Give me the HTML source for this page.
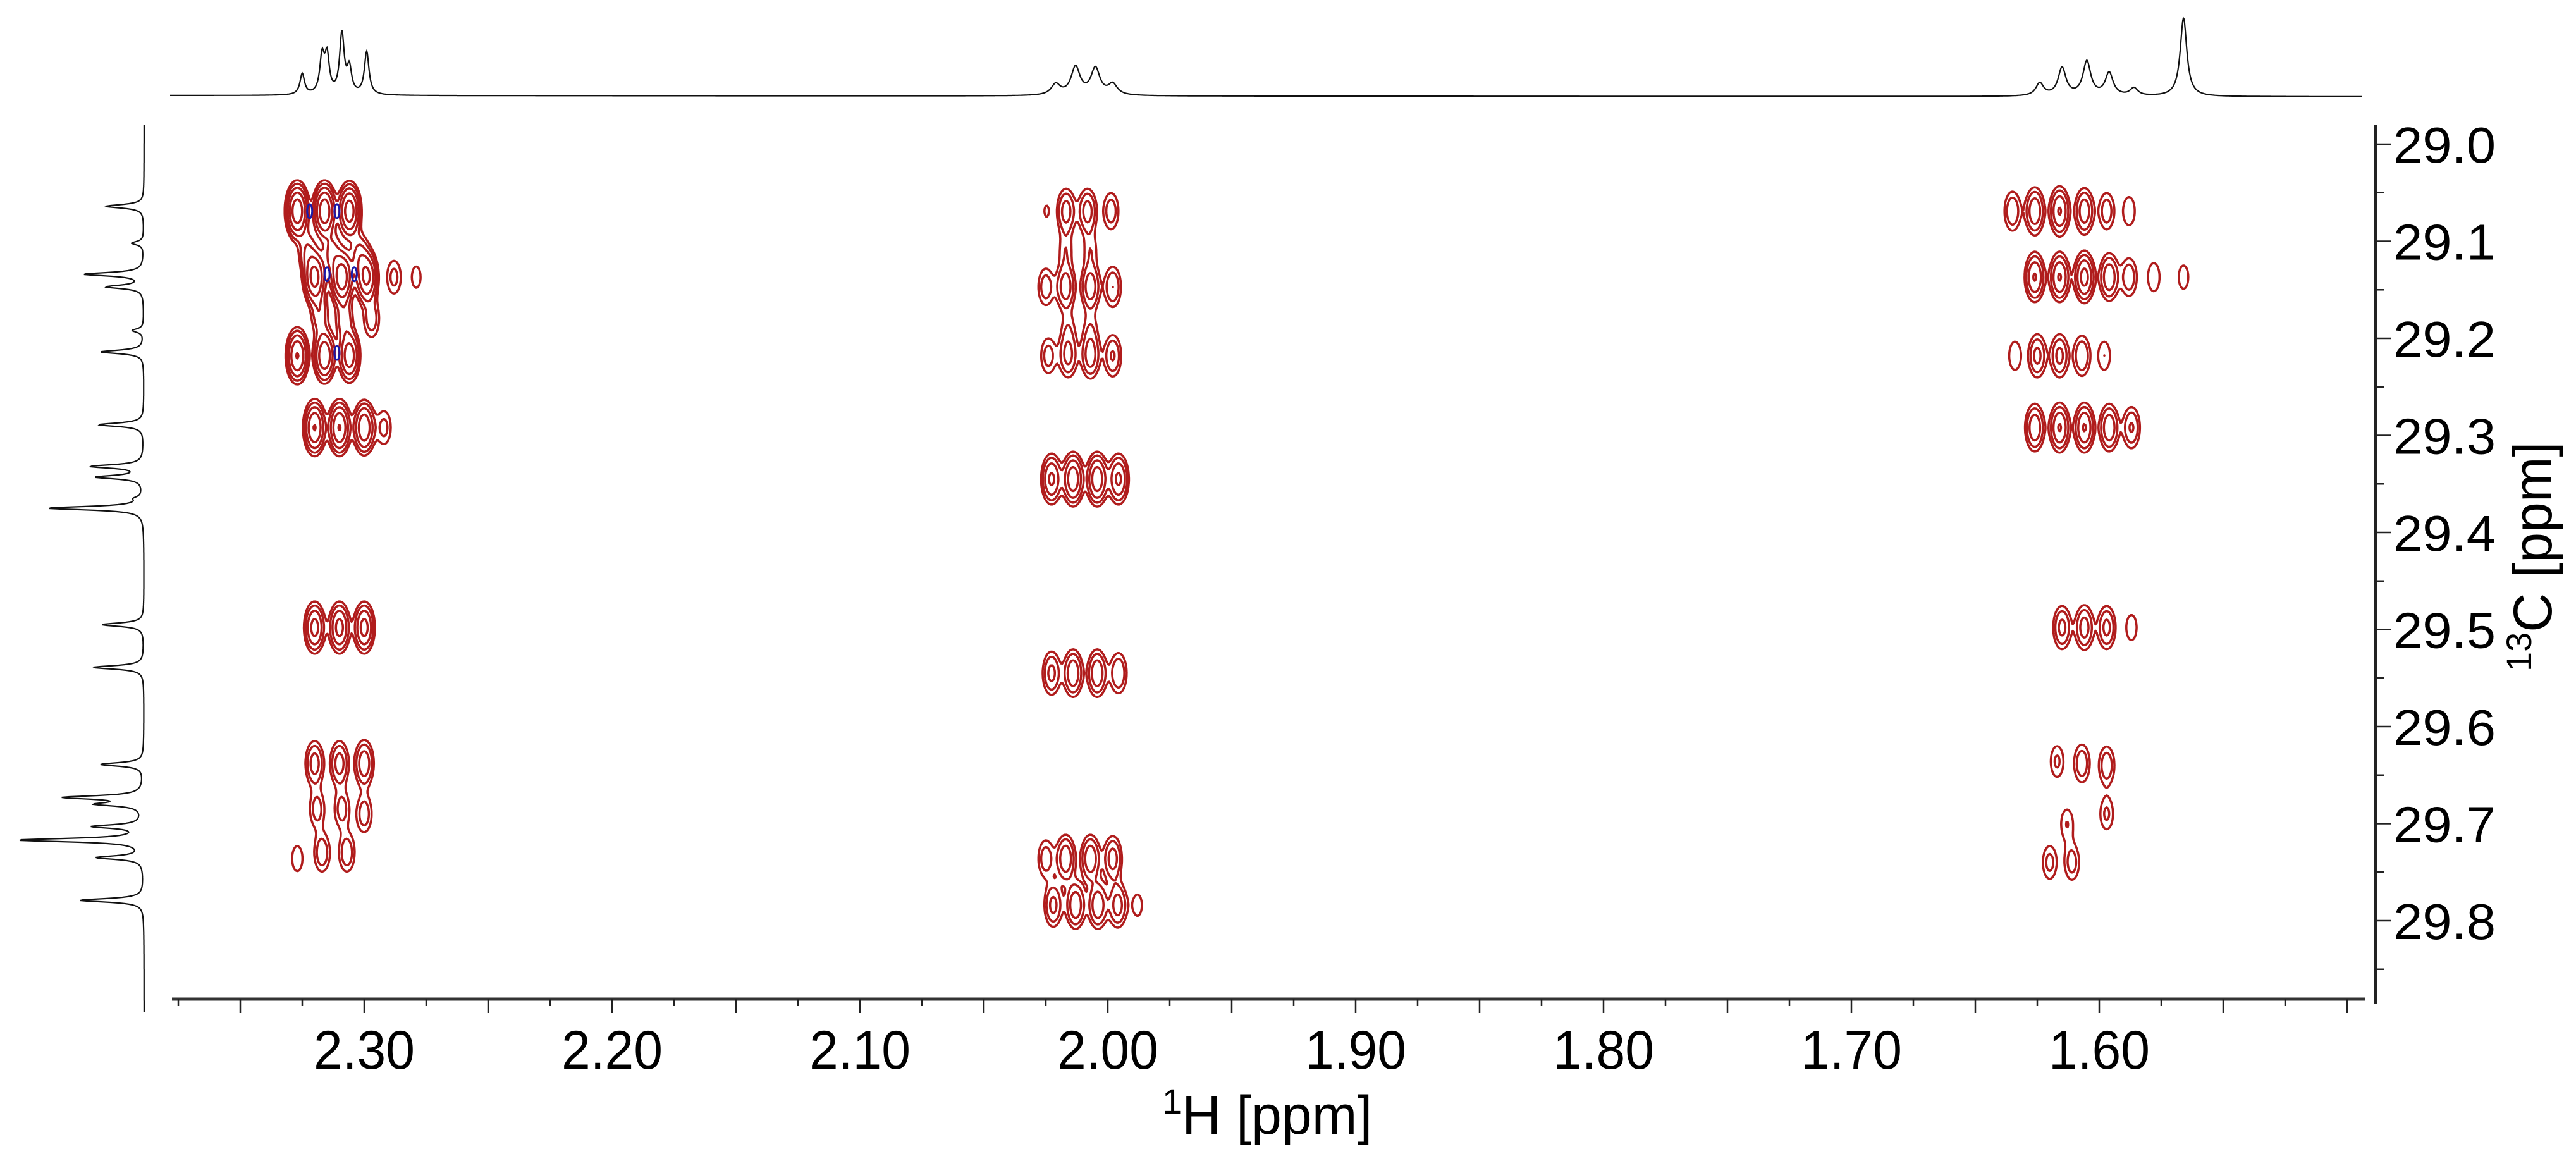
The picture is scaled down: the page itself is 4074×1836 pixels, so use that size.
<!DOCTYPE html>
<html><head><meta charset="utf-8"><title>HSQC spectrum</title>
<style>
html,body{margin:0;padding:0;background:#fff;}
svg{display:block;}
text{font-family:"Liberation Sans",sans-serif;fill:#000;}
</style></head>
<body>
<svg id="chart" width="4074" height="1836" viewBox="0 0 4074 1836" xmlns="http://www.w3.org/2000/svg">
<rect width="4074" height="1836" fill="#fff"/>
<g id="contours"></g>
<g id="blue"></g>
<g id="proj"></g>
<g id="xaxis"></g>
<g id="yaxis"></g>
<text x="1838" y="1793" font-size="86"><tspan font-size="56" dy="-32">1</tspan><tspan dy="32">H [ppm]</tspan></text>
<text transform="translate(4035,1062) rotate(-90)" font-size="86"><tspan font-size="56" dy="-32">13</tspan><tspan dy="32">C [ppm]</tspan></text>
</svg>
<script>
// ---------- data ----------
const xTickLabels = ["2.30","2.20","2.10","2.00","1.90","1.80","1.70","1.60"];
const yTickLabels = ["29.0","29.1","29.2","29.3","29.4","29.5","29.6","29.7","29.8"];
const contourLevels = [0.6, 1, 1.7, 2.9, 4.9];

const peakH = [
 2.327,2.316,2.306, 2.320,2.309,2.299,2.288,2.279, 2.313,2.302,2.323,2.318,2.308,2.297,
 2.327,2.316,2.306, 2.320,2.310,2.300,2.292, 2.320,2.310,2.300,
 2.320,2.310,2.300, 2.319,2.309,2.300, 2.317,2.307,2.327,
 2.0247,2.0168,2.0082,1.9987, 2.025,2.017,2.007,1.998,2.017,2.007,
 2.024,2.016,2.007,1.998,2.016,2.007,
 2.0227,2.014,2.0043,1.9957, 2.0227,2.014,2.0043,1.9957,
 2.025,2.017,2.007,1.998, 2.022,2.013,2.004,1.996,1.988,
 1.635,1.626,1.616,1.606,1.597,1.588,
 1.626,1.616,1.606,1.596,1.588,1.578,1.566,
 1.634,1.625,1.616,1.607,1.598,
 1.626,1.616,1.606,1.596,1.587,
 1.615,1.606,1.597,1.587,
 1.607,1.597,1.597,1.617,1.613,1.611,1.620
];
const peakC = [
 29.069,29.069,29.069, 29.137,29.137,29.137,29.137,29.137, 29.112,29.115,29.110,29.175,29.180,29.180,
 29.218,29.218,29.218, 29.292,29.292,29.292,29.292, 29.498,29.498,29.498,
 29.638,29.638,29.638, 29.685,29.685,29.690, 29.730,29.730,29.736,
 29.069,29.069,29.069,29.069, 29.147,29.147,29.147,29.147,29.109,29.109,
 29.218,29.218,29.218,29.218,29.190,29.190,
 29.345,29.345,29.345,29.345, 29.545,29.545,29.545,29.545,
 29.736,29.736,29.736,29.736, 29.784,29.784,29.784,29.784,29.784,
 29.069,29.069,29.069,29.069,29.069,29.069,
 29.137,29.137,29.137,29.137,29.137,29.137,29.137,
 29.218,29.218,29.218,29.218,29.218,
 29.292,29.292,29.292,29.292,29.292,
 29.498,29.498,29.498,29.498,
 29.638,29.640,29.690,29.636,29.700,29.740,29.740
];
const peakA = [
 7,7,6.5, 6,7,5.5,1.2,0.8, 2.0,2.0,1.6,1.5,1.5,1.4,
 5,4.5,4, 5,5,4.5,1.2, 3.5,3.5,3.5,
 2.2,2.2,2.5, 1.3,1.3,1.4, 1.5,1.5,0.9,
 0.75,2.2,2.2,1.4, 1.4,2.4,2.4,1.7,0.9,0.9,
 1.3,2.0,2.3,1.8,0.8,0.8,
 3.2,4.2,4.2,3.2, 2.0,2.6,2.6,1.7,
 1.4,2.6,2.6,2.2, 2.0,2.6,2.6,2.2,0.8,
 1.6,2.6,3.0,2.4,1.4,1.0,
 3.0,3.0,3.5,2.6,1.5,1.0,0.85,
 1.0,2.0,2.0,1.7,1.0,
 2.6,3.0,3.0,2.6,1.8,
 2.0,2.2,2.0,0.9,
 1.5,1.5,1.1,1.1,1.0,1.3,1.2
];

const blueH = [2.322,2.311,2.315,2.304,2.311];
const blueC = [29.069,29.069,29.134,29.134,29.215];

const topPpm = [2.325,2.317,2.315,2.309,2.306,2.299, 2.021,2.013,2.005,1.998, 1.624,1.615,1.605,1.596,1.586,1.566];
const topHeight = [33,58,58,95,40,68, 17,44,42,17, 20,44,54,36,12,124];

const leftC = [29.064,29.102,29.134,29.147,29.192,29.214,29.289,29.332,29.343,29.365,29.375,29.495,29.539,29.639,29.673,29.680,29.703,29.717,29.735,29.779];
const leftAmp = [60,19,94,58,18,68,71,82,74,10,151,66,80,68,123,68,78,196,73,101];

// ---------- axes ----------
const X0 = 576, XPER = 3920;
const Y0 = 228, YPER = 1535;
const xS = p => X0 + (2.30 - p) * XPER;
const yS = c => Y0 + (c - 29.0) * YPER;
const PL = 272, PR = 3740, PT = 198, PB = 1580;
const NS = "http://www.w3.org/2000/svg";
function mk(tag, attrs, parent){const e=document.createElementNS(NS,tag);for(const k in attrs)e.setAttribute(k,attrs[k]);parent.appendChild(e);return e;}

const xg = document.getElementById('xaxis');
const xl = mk('line',{x1:PL,y1:1580,x2:PR,y2:1580,stroke:'#333','stroke-width':5},xg);


for(let i=0;i<=35;i++){
  const p = 2.375 - i*0.025;
  const long = (i%2===1);
  const t = mk('line',{x1:xS(p),y1:1580,x2:xS(p),y2:long?1602:1591,stroke:'#222','stroke-width':2.5},xg);
  
  
}
xTickLabels.forEach(s=>{
  const t = mk('text',{x:xS(parseFloat(s)),y:1690,'font-size':86,'text-anchor':'middle',textLength:160,lengthAdjust:'spacingAndGlyphs'},xg);
  t.textContent = s;
  
  
});

const yg = document.getElementById('yaxis');
const yl = mk('line',{x1:3757,y1:PT,x2:3757,y2:1588,stroke:'#222','stroke-width':4},yg);


for(let i=0;i<=17;i++){
  const c = 29.0 + i*0.05;
  const long = (i%2===0);
  const t = mk('line',{x1:3757,y1:yS(c),x2:long?3782:3770,y2:yS(c),stroke:'#222','stroke-width':2.5},yg);
  
  
}
yTickLabels.forEach(s=>{
  const t = mk('text',{x:3785,y:yS(parseFloat(s))+29,'font-size':80,textLength:162,lengthAdjust:'spacingAndGlyphs'},yg);
  t.textContent = s;
  
  
});

// ---------- projections ----------
const pg = document.getElementById('proj');
(function(){
  let d='';
  for(let x=269;x<=3735;x+=1){
    const p = 2.30 - (x - X0)/XPER;
    let v=0;
    for(let i=0;i<topPpm.length;i++){
      const w = topPpm[i]>2.1?0.0011:(topPpm[i]>1.9?0.0022:(topPpm[i]<1.57?0.0016:0.0019));
      const u=(p-topPpm[i])/w; v+=topHeight[i]/(1+u*u);
    }
    const base = 151 + (x-269)/3466*2;
    d += (x===269?'M':'L')+x+' '+(base - v).toFixed(1)+' ';
  }
  const e = mk('path',{d:d,fill:'none',stroke:'#111','stroke-width':2.2},pg);
  
  
  let d2='';
  for(let y=198;y<=1600;y+=1){
    const c = 29.0 + (y - Y0)/YPER;
    let v=0;
    for(let i=0;i<leftC.length;i++){const u=(c-leftC[i])/0.0022; v+=leftAmp[i]/(1+u*u);}
    d2 += (y===198?'M':'L')+(228 - v).toFixed(1)+' '+y+' ';
  }
  const e2 = mk('path',{d:d2,fill:'none',stroke:'#111','stroke-width':2.2},pg);
  
  
})();

// ---------- contours ----------
(function(){
  const step=2, GX=Math.ceil((PR-PL)/step)+1, GY=Math.ceil((PB-PT)/step)+1;
  const F = new Float32Array(GX*GY);
  const SX=9, SY=22;
  for(let k=0;k<peakH.length;k++){
    const cx=xS(peakH[k]), cy=yS(peakC[k]), A=peakA[k];
    const sx = A<0.8?5:SX, sy = A<0.8?13:SY;
    const i0=Math.max(0,Math.floor((cx-5*sx-PL)/step)), i1=Math.min(GX-1,Math.ceil((cx+5*sx-PL)/step));
    const j0=Math.max(0,Math.floor((cy-5*sy-PT)/step)), j1=Math.min(GY-1,Math.ceil((cy+5*sy-PT)/step));
    for(let j=j0;j<=j1;j++){const dy=(PT+j*step-cy)/sy;const ey=Math.exp(-0.5*dy*dy);
      for(let i=i0;i<=i1;i++){const dx=(PL+i*step-cx)/sx;F[j*GX+i]+=A*ey*Math.exp(-0.5*dx*dx);}}
  }
  const cg=document.getElementById('contours');
  contourLevels.forEach(L=>{
    let d=[];
    for(let j=0;j<GY-1;j++)for(let i=0;i<GX-1;i++){
      const a=F[j*GX+i],b=F[j*GX+i+1],c=F[(j+1)*GX+i+1],e=F[(j+1)*GX+i];
      const idx=(a>=L?8:0)|(b>=L?4:0)|(c>=L?2:0)|(e>=L?1:0);
      if(idx===0||idx===15)continue;
      const x=PL+i*step,y=PT+j*step;
      const T=[x+step*(L-a)/(b-a),y], R=[x+step,y+step*(L-b)/(c-b)],
            B=[x+step*(L-e)/(c-e),y+step], Lf=[x,y+step*(L-a)/(e-a)];
      const segs={1:[[Lf,B]],2:[[B,R]],3:[[Lf,R]],4:[[T,R]],5:[[Lf,T],[B,R]],6:[[T,B]],7:[[Lf,T]],
        8:[[Lf,T]],9:[[T,B]],10:[[T,R],[Lf,B]],11:[[T,R]],12:[[Lf,R]],13:[[B,R]],14:[[Lf,B]]}[idx];
      segs.forEach(s=>d.push('M'+s[0][0].toFixed(1)+' '+s[0][1].toFixed(1)+'L'+s[1][0].toFixed(1)+' '+s[1][1].toFixed(1)));
    }
    const p=mk('path',{d:d.join(''),fill:'none',stroke:'#b01c1c','stroke-width':3.5,'stroke-linecap':'round'},cg);
    
    
  });
  const bg=document.getElementById('blue');
  for(let k=0;k<blueH.length;k++){
    const el=mk('ellipse',{cx:xS(blueH[k]),cy:yS(blueC[k]),rx:4,ry:11,fill:'none',stroke:'#1a1aa8','stroke-width':3},bg);
    
    
  }
})();
</script>
</body></html>
